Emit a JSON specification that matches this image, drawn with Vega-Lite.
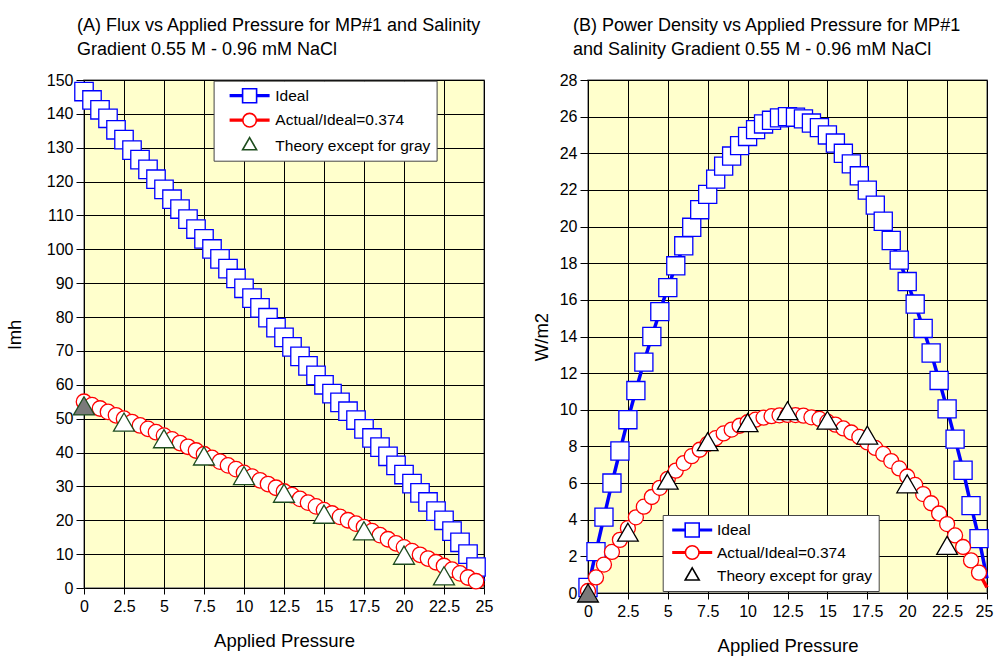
{
  "$schema": "https://vega.github.io/schema/vega-lite/v6.json",
  "background": "white",
  "padding": {"left": 4, "top": 16, "right": 2, "bottom": 2},
  "config": {
    "font": "Liberation Sans",
    "view": {"fill": "#FFFFCC", "stroke": "#808080", "strokeWidth": 1.5},
    "concat": {"spacing": 37},
    "axis": {
      "grid": true, "gridColor": "#000", "gridWidth": 1, "gridOpacity": 1,
      "domain": false, "tickColor": "#000", "tickSize": 8, "tickWidth": 1,
      "labelFont": "Liberation Sans", "labelFontSize": 16, "labelColor": "#000", "labelPadding": 3,
      "titleFont": "Liberation Sans", "titleFontSize": 18.5, "titleFontWeight": "normal", "titleColor": "#000"
    },
    "axisX": {"tickSize": 6, "labelPadding": 4, "titlePadding": 17, "labelFlush": false, "format": ".1~f"},
    "axisY": {"titlePadding": 8, "labelFlush": false},
    "title": {"font": "Liberation Sans", "fontSize": 18, "fontWeight": "normal", "color": "#000", "anchor": "start", "lineHeight": 24, "frame": "group"},
    "legend": {"labelFont": "Liberation Sans", "labelFontSize": 15.5, "labelColor": "#000", "labelLimit": 400}
  },
  "datasets": {
    "flux": [
      {"x":0,"y":146.6,"s":"I"},{"x":0.5,"y":144.1,"s":"I"},{"x":1,"y":141.2,"s":"I"},{"x":1.5,"y":138.7,"s":"I"},{"x":2,"y":135.3,"s":"I"},
      {"x":2.5,"y":132.4,"s":"I"},{"x":3,"y":129.3,"s":"I"},{"x":3.5,"y":126.5,"s":"I"},{"x":4,"y":123.6,"s":"I"},{"x":4.5,"y":120.7,"s":"I"},
      {"x":5,"y":117.7,"s":"I"},{"x":5.5,"y":114.8,"s":"I"},{"x":6,"y":111.9,"s":"I"},{"x":6.5,"y":108.9,"s":"I"},{"x":7,"y":106.0,"s":"I"},
      {"x":7.5,"y":103.1,"s":"I"},{"x":8,"y":100.1,"s":"I"},{"x":8.5,"y":97.2,"s":"I"},{"x":9,"y":94.3,"s":"I"},{"x":9.5,"y":91.4,"s":"I"},
      {"x":10,"y":88.5,"s":"I"},{"x":10.5,"y":85.6,"s":"I"},{"x":11,"y":82.7,"s":"I"},{"x":11.5,"y":79.8,"s":"I"},{"x":12,"y":76.9,"s":"I"},
      {"x":12.5,"y":74.0,"s":"I"},{"x":13,"y":71.2,"s":"I"},{"x":13.5,"y":68.4,"s":"I"},{"x":14,"y":65.6,"s":"I"},{"x":14.5,"y":62.8,"s":"I"},
      {"x":15,"y":60.0,"s":"I"},{"x":15.5,"y":57.4,"s":"I"},{"x":16,"y":54.8,"s":"I"},{"x":16.5,"y":52.2,"s":"I"},{"x":17,"y":49.6,"s":"I"},
      {"x":17.5,"y":47.0,"s":"I"},{"x":18,"y":44.3,"s":"I"},{"x":18.5,"y":41.6,"s":"I"},{"x":19,"y":38.9,"s":"I"},{"x":19.5,"y":36.2,"s":"I"},
      {"x":20,"y":33.5,"s":"I"},{"x":20.5,"y":30.8,"s":"I"},{"x":21,"y":28.1,"s":"I"},{"x":21.5,"y":25.4,"s":"I"},{"x":22,"y":22.7,"s":"I"},
      {"x":22.5,"y":20.0,"s":"I"},{"x":23,"y":16.8,"s":"I"},{"x":23.5,"y":13.5,"s":"I"},{"x":24,"y":10.0,"s":"I"},{"x":24.5,"y":6.2,"s":"I"},
      {"x":25,"y":2.0,"s":"I"},
      {"x":0,"y":55.0,"s":"A"},{"x":0.5,"y":54.0,"s":"A"},{"x":1,"y":53.0,"s":"A"},{"x":1.5,"y":52.0,"s":"A"},{"x":2,"y":51.0,"s":"A"},
      {"x":2.5,"y":50.0,"s":"A"},{"x":3,"y":49.0,"s":"A"},{"x":3.5,"y":48.0,"s":"A"},{"x":4,"y":47.0,"s":"A"},{"x":4.5,"y":46.0,"s":"A"},
      {"x":5,"y":45.0,"s":"A"},{"x":5.5,"y":43.9,"s":"A"},{"x":6,"y":42.8,"s":"A"},{"x":6.5,"y":41.7,"s":"A"},{"x":7,"y":40.6,"s":"A"},
      {"x":7.5,"y":39.5,"s":"A"},{"x":8,"y":38.4,"s":"A"},{"x":8.5,"y":37.3,"s":"A"},{"x":9,"y":36.2,"s":"A"},{"x":9.5,"y":35.1,"s":"A"},
      {"x":10,"y":34.0,"s":"A"},{"x":10.5,"y":32.9,"s":"A"},{"x":11,"y":31.8,"s":"A"},{"x":11.5,"y":30.7,"s":"A"},{"x":12,"y":29.6,"s":"A"},
      {"x":12.5,"y":28.5,"s":"A"},{"x":13,"y":27.4,"s":"A"},{"x":13.5,"y":26.3,"s":"A"},{"x":14,"y":25.2,"s":"A"},{"x":14.5,"y":24.1,"s":"A"},
      {"x":15,"y":23.0,"s":"A"},{"x":15.5,"y":22.0,"s":"A"},{"x":16,"y":21.0,"s":"A"},{"x":16.5,"y":20.0,"s":"A"},{"x":17,"y":19.0,"s":"A"},
      {"x":17.5,"y":18.0,"s":"A"},{"x":18,"y":16.8,"s":"A"},{"x":18.5,"y":15.6,"s":"A"},{"x":19,"y":14.4,"s":"A"},{"x":19.5,"y":13.2,"s":"A"},
      {"x":20,"y":12.0,"s":"A"},{"x":20.5,"y":10.9,"s":"A"},{"x":21,"y":9.8,"s":"A"},{"x":21.5,"y":8.7,"s":"A"},{"x":22,"y":7.6,"s":"A"},
      {"x":22.5,"y":6.5,"s":"A"},{"x":23,"y":5.4,"s":"A"},{"x":23.5,"y":4.3,"s":"A"},{"x":24,"y":3.1,"s":"A"},{"x":24.5,"y":2.0,"s":"A"},
      {"x":25,"y":0.8,"s":"A"},
      {"x":2.5,"y":49.0,"s":"T"},{"x":5,"y":44.1,"s":"T"},{"x":7.5,"y":39.0,"s":"T"},{"x":10,"y":33.2,"s":"T"},{"x":12.5,"y":28.0,"s":"T"},
      {"x":15,"y":21.8,"s":"T"},{"x":17.5,"y":16.9,"s":"T"},{"x":20,"y":9.7,"s":"T"},{"x":22.5,"y":3.6,"s":"T"},
      {"x":0,"y":53.8,"s":"G"}
    ],
    "power": [
      {"x":0,"y":0.3,"s":"I"},{"x":0.5,"y":2.26,"s":"I"},{"x":1,"y":4.14,"s":"I"},{"x":1.5,"y":6.0,"s":"I"},{"x":2,"y":7.75,"s":"I"},
      {"x":2.5,"y":9.46,"s":"I"},{"x":3,"y":11.05,"s":"I"},{"x":3.5,"y":12.6,"s":"I"},{"x":4,"y":14.0,"s":"I"},{"x":4.5,"y":15.36,"s":"I"},
      {"x":5,"y":16.67,"s":"I"},{"x":5.5,"y":17.86,"s":"I"},{"x":6,"y":18.95,"s":"I"},{"x":6.5,"y":19.96,"s":"I"},{"x":7,"y":20.92,"s":"I"},
      {"x":7.5,"y":21.76,"s":"I"},{"x":8,"y":22.59,"s":"I"},{"x":8.5,"y":23.3,"s":"I"},{"x":9,"y":23.85,"s":"I"},{"x":9.5,"y":24.42,"s":"I"},
      {"x":10,"y":24.92,"s":"I"},{"x":10.5,"y":25.29,"s":"I"},{"x":11,"y":25.6,"s":"I"},{"x":11.5,"y":25.8,"s":"I"},{"x":12,"y":25.93,"s":"I"},
      {"x":12.5,"y":26.0,"s":"I"},{"x":13,"y":25.97,"s":"I"},{"x":13.5,"y":25.88,"s":"I"},{"x":14,"y":25.65,"s":"I"},{"x":14.5,"y":25.4,"s":"I"},
      {"x":15,"y":25.0,"s":"I"},{"x":15.5,"y":24.56,"s":"I"},{"x":16,"y":24.0,"s":"I"},{"x":16.5,"y":23.42,"s":"I"},{"x":17,"y":22.77,"s":"I"},
      {"x":17.5,"y":21.99,"s":"I"},{"x":18,"y":21.17,"s":"I"},{"x":18.5,"y":20.29,"s":"I"},{"x":19,"y":19.24,"s":"I"},{"x":19.5,"y":18.17,"s":"I"},
      {"x":20,"y":17.0,"s":"I"},{"x":20.5,"y":15.77,"s":"I"},{"x":21,"y":14.44,"s":"I"},{"x":21.5,"y":13.1,"s":"I"},{"x":22,"y":11.6,"s":"I"},
      {"x":22.5,"y":10.05,"s":"I"},{"x":23,"y":8.4,"s":"I"},{"x":23.5,"y":6.7,"s":"I"},{"x":24,"y":4.77,"s":"I"},{"x":24.5,"y":2.97,"s":"I"},
      {"x":25,"y":0.8,"s":"I"},
      {"x":0,"y":0.11,"s":"A"},{"x":0.5,"y":0.85,"s":"A"},{"x":1,"y":1.55,"s":"A"},{"x":1.5,"y":2.24,"s":"A"},{"x":2,"y":2.9,"s":"A"},
      {"x":2.5,"y":3.54,"s":"A"},{"x":3,"y":4.13,"s":"A"},{"x":3.5,"y":4.71,"s":"A"},{"x":4,"y":5.24,"s":"A"},{"x":4.5,"y":5.74,"s":"A"},
      {"x":5,"y":6.23,"s":"A"},{"x":5.5,"y":6.68,"s":"A"},{"x":6,"y":7.09,"s":"A"},{"x":6.5,"y":7.47,"s":"A"},{"x":7,"y":7.82,"s":"A"},
      {"x":7.5,"y":8.14,"s":"A"},{"x":8,"y":8.45,"s":"A"},{"x":8.5,"y":8.71,"s":"A"},{"x":9,"y":8.92,"s":"A"},{"x":9.5,"y":9.13,"s":"A"},
      {"x":10,"y":9.32,"s":"A"},{"x":10.5,"y":9.46,"s":"A"},{"x":11,"y":9.57,"s":"A"},{"x":11.5,"y":9.65,"s":"A"},{"x":12,"y":9.7,"s":"A"},
      {"x":12.5,"y":9.72,"s":"A"},{"x":13,"y":9.71,"s":"A"},{"x":13.5,"y":9.68,"s":"A"},{"x":14,"y":9.59,"s":"A"},{"x":14.5,"y":9.5,"s":"A"},
      {"x":15,"y":9.35,"s":"A"},{"x":15.5,"y":9.19,"s":"A"},{"x":16,"y":8.98,"s":"A"},{"x":16.5,"y":8.76,"s":"A"},{"x":17,"y":8.52,"s":"A"},
      {"x":17.5,"y":8.22,"s":"A"},{"x":18,"y":7.92,"s":"A"},{"x":18.5,"y":7.59,"s":"A"},{"x":19,"y":7.2,"s":"A"},{"x":19.5,"y":6.8,"s":"A"},
      {"x":20,"y":6.36,"s":"A"},{"x":20.5,"y":5.9,"s":"A"},{"x":21,"y":5.4,"s":"A"},{"x":21.5,"y":4.9,"s":"A"},{"x":22,"y":4.34,"s":"A"},
      {"x":22.5,"y":3.76,"s":"A"},{"x":23,"y":3.14,"s":"A"},{"x":23.5,"y":2.51,"s":"A"},{"x":24,"y":1.78,"s":"A"},{"x":24.5,"y":1.11,"s":"A"},
      {"x":25,"y":0.3,"s":"A"},
      {"x":2.5,"y":3.32,"s":"T"},{"x":5,"y":6.16,"s":"T"},{"x":7.5,"y":8.26,"s":"T"},{"x":10,"y":9.3,"s":"T"},{"x":12.5,"y":9.95,"s":"T"},
      {"x":15,"y":9.43,"s":"T"},{"x":17.5,"y":8.62,"s":"T"},{"x":20,"y":5.96,"s":"T"},{"x":22.5,"y":2.6,"s":"T"},
      {"x":0,"y":0.0,"s":"G"}
    ]
  },
  "resolve": {"scale": {"color": "independent", "shape": "independent", "stroke": "independent", "size": "independent", "x": "independent", "y": "independent"}},
  "hconcat": [
    {
      "width": 400, "height": 508,
      "data": {"name": "flux"},
      "title": {"text": ["(A) Flux vs Applied Pressure for MP#1 and Salinity", "Gradient 0.55 M - 0.96 mM NaCl"], "dx": -7, "offset": 13},
      "resolve": {"scale": {"shape": "independent", "stroke": "independent"}},
      "encoding": {
        "x": {"field": "x", "type": "quantitative", "scale": {"domain": [0, 25], "nice": false, "zero": false},
              "axis": {"values": [0, 2.5, 5, 7.5, 10, 12.5, 15, 17.5, 20, 22.5, 25], "title": "Applied Pressure"}},
        "y": {"field": "y", "type": "quantitative", "scale": {"domain": [0, 150], "nice": false},
              "axis": {"values": [0, 10, 20, 30, 40, 50, 60, 70, 80, 90, 100, 110, 120, 130, 140, 150], "title": "lmh", "titlePadding": 21.7}}
      },
      "layer": [
        {
          "transform": [{"filter": {"field": "s", "oneOf": ["I", "A"]}}],
          "mark": {"type": "line", "strokeWidth": 3.5},
          "encoding": {
            "color": {"field": "s", "type": "nominal", "scale": {"domain": ["I", "A"], "range": ["#0000FF", "#FF0000"]}, "legend": null}
          }
        },
        {
          "transform": [{"filter": "datum.s != 'G' && datum.x < 25"}],
          "mark": {"type": "point", "filled": true, "fill": "white", "strokeWidth": 1.3, "opacity": 1},
          "encoding": {
            "shape": {"field": "s", "type": "nominal", "scale": {"domain": ["T", "I", "A"], "range": ["triangle-up", "square", "circle"]}, "legend": null},
            "stroke": {"field": "s", "type": "nominal", "scale": {"domain": ["T", "I", "A"], "range": ["#1E4D1E", "#0000FF", "#FF0000"]}, "legend": null},
            "size": {"field": "s", "type": "nominal", "scale": {"domain": ["T", "I", "A"], "range": [440, 240, 170]}, "legend": null}
          }
        },
        {
          "transform": [{"filter": "datum.s == 'G'"}],
          "mark": {"type": "point", "shape": "triangle-up", "filled": true, "fill": "#7A7A7A", "stroke": "#1E4D1E", "strokeWidth": 1.3, "size": 440, "opacity": 1}
        },
        {
          "transform": [{"filter": "false"}],
          "mark": {"type": "point", "filled": false, "strokeWidth": 1.6, "opacity": 1},
          "encoding": {
            "shape": {"field": "s", "type": "nominal",
              "scale": {"domain": ["I", "A", "T"], "range": [
                "M-2.5,-0.1H-0.875M-2.5,0H-0.875M-2.5,0.1H-0.875M0.875,-0.1H2.5M0.875,0H2.5M0.875,0.1H2.5M-0.875,-0.875H0.875V0.875H-0.875Z",
                "M-2.5,-0.1H-0.85M-2.5,0H-0.85M-2.5,0.1H-0.85M0.85,-0.1H2.5M0.85,0H2.5M0.85,0.1H2.5M0.85,0A0.85,0.85,0,1,1,-0.85,0A0.85,0.85,0,1,1,0.85,0Z",
                "M0,-1.01L0.875,0.505L-0.875,0.505Z"]},
              "legend": {"title": null, "orient": "none", "legendX": 129.6, "legendY": 0.7, "padding": 6, "rowPadding": 3.5,
                "symbolSize": 256, "symbolStrokeWidth": 1.6, "symbolOffset": 21, "labelOffset": 16.7, "symbolFillColor": "transparent",
                "fillColor": "white", "strokeColor": "#444",
                "labelExpr": "datum.label == 'I' ? 'Ideal' : datum.label == 'A' ? 'Actual/Ideal=0.374' : 'Theory except for gray'"}},
            "stroke": {"field": "s", "type": "nominal", "scale": {"domain": ["I", "A", "T"], "range": ["#0000FF", "#FF0000", "#1E4D1E"]}}
          }
        }
      ]
    },
    {
      "width": 399, "height": 513,
      "data": {"name": "power"},
      "title": {"text": ["(B) Power Density vs Applied Pressure for MP#1", "and Salinity Gradient 0.55 M - 0.96 mM NaCl"], "dx": -15, "offset": 13},
      "resolve": {"scale": {"shape": "independent", "stroke": "independent"}},
      "encoding": {
        "x": {"field": "x", "type": "quantitative", "scale": {"domain": [0, 25], "nice": false, "zero": false},
              "axis": {"values": [0, 2.5, 5, 7.5, 10, 12.5, 15, 17.5, 20, 22.5, 25], "title": "Applied Pressure",
                       "labelOffset": {"condition": {"test": "datum.value == 25", "value": -3}, "value": 0}}},
        "y": {"field": "y", "type": "quantitative", "scale": {"domain": [0, 28], "nice": false},
              "axis": {"values": [0, 2, 4, 6, 8, 10, 12, 14, 16, 18, 20, 22, 24, 26, 28], "title": "W/m2"}}
      },
      "layer": [
        {
          "transform": [{"filter": {"field": "s", "oneOf": ["I", "A"]}}],
          "mark": {"type": "line", "strokeWidth": 3.5},
          "encoding": {
            "color": {"field": "s", "type": "nominal", "scale": {"domain": ["I", "A"], "range": ["#0000FF", "#FF0000"]}, "legend": null}
          }
        },
        {
          "transform": [{"filter": "datum.s != 'G' && datum.x < 25"}],
          "mark": {"type": "point", "filled": true, "fill": "white", "strokeWidth": 1.3, "opacity": 1},
          "encoding": {
            "shape": {"field": "s", "type": "nominal", "scale": {"domain": ["T", "I", "A"], "range": ["triangle-up", "square", "circle"]}, "legend": null},
            "stroke": {"field": "s", "type": "nominal", "scale": {"domain": ["T", "I", "A"], "range": ["#000000", "#0000FF", "#FF0000"]}, "legend": null},
            "size": {"field": "s", "type": "nominal", "scale": {"domain": ["T", "I", "A"], "range": [430, 225, 165]}, "legend": null}
          }
        },
        {
          "transform": [{"filter": "datum.s == 'G'"}],
          "mark": {"type": "point", "shape": "triangle-up", "filled": true, "fill": "#7A7A7A", "stroke": "#000000", "strokeWidth": 1.3, "size": 430, "opacity": 1}
        },
        {
          "transform": [{"filter": "false"}],
          "mark": {"type": "point", "filled": false, "strokeWidth": 1.6, "opacity": 1},
          "encoding": {
            "shape": {"field": "s", "type": "nominal",
              "scale": {"domain": ["I", "A", "T"], "range": [
                "M-2.5,-0.1H-0.875M-2.5,0H-0.875M-2.5,0.1H-0.875M0.875,-0.1H2.5M0.875,0H2.5M0.875,0.1H2.5M-0.875,-0.875H0.875V0.875H-0.875Z",
                "M-2.5,-0.1H-0.85M-2.5,0H-0.85M-2.5,0.1H-0.85M0.85,-0.1H2.5M0.85,0H2.5M0.85,0.1H2.5M0.85,0A0.85,0.85,0,1,1,-0.85,0A0.85,0.85,0,1,1,0.85,0Z",
                "M0,-1.01L0.875,0.505L-0.875,0.505Z"]},
              "legend": {"title": null, "orient": "none", "legendX": 74.7, "legendY": 435, "padding": 6, "rowPadding": 1.5,
                "symbolSize": 256, "symbolStrokeWidth": 1.6, "symbolOffset": 14.5, "labelOffset": 15.8, "symbolFillColor": "transparent",
                "fillColor": "white", "strokeColor": "#444",
                "labelExpr": "datum.label == 'I' ? 'Ideal' : datum.label == 'A' ? 'Actual/Ideal=0.374' : 'Theory except for gray'"}},
            "stroke": {"field": "s", "type": "nominal", "scale": {"domain": ["I", "A", "T"], "range": ["#0000FF", "#FF0000", "#000000"]}}
          }
        }
      ]
    }
  ]
}
